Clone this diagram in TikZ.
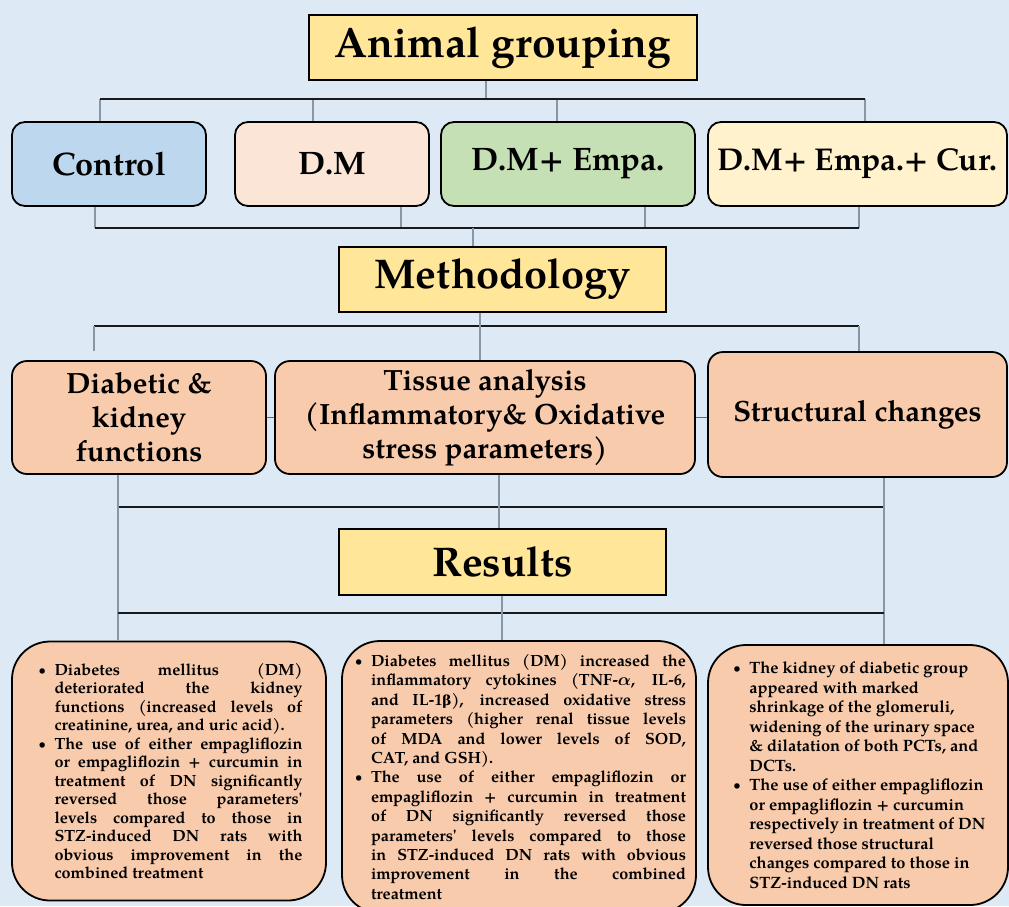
\documentclass[tikz,border=0pt]{standalone}
\usepackage{amsmath}
\usepackage{fontspec}
\setmainfont{texgyrepagella}[Extension=.otf, UprightFont=*-regular, BoldFont=*-bold, ItalicFont=*-italic, BoldItalicFont=*-bolditalic]
\newfontfamily\grkfont{DejaVu Serif}[Scale=0.85]
\usetikzlibrary{positioning}
\definecolor{bgblue}{HTML}{DDE9F5}
\definecolor{headyellow}{HTML}{FFE699}
\definecolor{ctrlblue}{HTML}{BDD7EE}
\definecolor{dmpink}{HTML}{FBE5D6}
\definecolor{empagreen}{HTML}{C5E0B4}
\definecolor{curcream}{HTML}{FFF2CC}
\definecolor{peach}{HTML}{F8CBAD}
\definecolor{dropgray}{HTML}{8A96A6}
% result lines: bullet, indent, justified line of width \colw
\newlength{\colw}
\newcommand{\bitem}{\makebox[19pt][l]{\hspace{3pt}\raisebox{1pt}{\scalebox{0.75}{\textbullet}}}}
\newcommand{\gap}{\hspace*{19pt}}
\newcommand{\just}[1]{\makebox[\colw][s]{#1}}

\begin{document}
\begin{tikzpicture}[
    x=1pt, y=-1pt,
    head/.style={draw=black, line width=2pt, fill=headyellow, minimum height=65pt, inner sep=0pt, font=\fontsize{41.5}{48}\selectfont\bfseries},
    group/.style={draw=black, line width=1.8pt, rounded corners=13pt, minimum height=84pt, inner sep=0pt, font=\fontsize{32.5}{36}\selectfont\bfseries},
    method/.style={draw=black, line width=1.8pt, rounded corners=15pt, fill=peach, inner sep=0pt, align=center, font=\fontsize{29.3}{34}\selectfont\bfseries},
    result/.style={draw=black, line width=1.8pt, rounded corners=38pt, fill=peach, inner sep=0pt, align=left},
    bus/.style={line width=2pt, draw=black!90},
    drop/.style={line width=1.2pt, draw=dropgray},
    side/.style={line width=1.4pt, draw=black!60},
]
\useasboundingbox (0,0) rectangle (1009,906);
\fill[bgblue] (0,0) rectangle (1009,906);

% animal groups
\node[head, minimum width=388pt, font=\fontsize{42.5}{48}\selectfont\bfseries] (ag) at (503,47.5) {Animal grouping};
\node[group, fill=ctrlblue, minimum width=194pt] (ctrl) at (109,164) {Control};
\node[group, fill=dmpink, minimum width=194pt] (dm) at (332,164) {D.M};
\node[group, fill=empagreen, minimum width=254pt] (empa) at (568,164) {D.M+ Empa.};
\node[group, fill=curcream, minimum width=299pt, font=\fontsize{31.5}{36}\selectfont\bfseries] (cur) at (857.5,164) {D.M+ Empa.+ Cur.};

% methodology
\node[head, minimum width=327pt] (meth) at (502.5,279.5) {Methodology};
\node[method, minimum width=254pt, minimum height=113pt] (diab) at (139,417.5) {Diabetic \&\\kidney\\functions};
\node[method, minimum width=420pt, minimum height=113pt] (tissue) at (485,417.5) {Tissue analysis\\(Inflammatory\& Oxidative\\stress parameters)};
\node[method, minimum width=299pt, minimum height=125pt] (struct) at (857.5,414.5) {Structural changes};

% results
\node[head, minimum width=327pt, minimum height=66pt] (res) at (502.5,562) {Results};
\setlength{\colw}{248pt}
\node[result, minimum width=314pt, minimum height=259pt, font=\fontsize{16.2}{18.5}\selectfont\bfseries] (resL) at (169,771) {%
\bitem\just{Diabetes mellitus (DM)}\\
\gap\just{deteriorated the kidney}\\
\gap\just{functions (increased levels of}\\
\gap creatinine, urea, and uric acid).\\
\bitem\just{The use of either empagliflozin}\\
\gap\just{or empagliflozin + curcumin in}\\
\gap\just{treatment of DN significantly}\\
\gap\just{reversed those parameters\textquotesingle}\\
\gap\just{levels compared to those in}\\
\gap\just{STZ-induced DN rats with}\\
\gap\just{obvious improvement in the}\\
\gap combined treatment};
\setlength{\colw}{315pt}
\node[result, minimum width=354pt, minimum height=272pt, font=\fontsize{16.2}{19.4}\selectfont\bfseries] (resM) at (519,777) {%
\bitem\just{Diabetes mellitus (DM) increased the}\\
\gap\just{inflammatory cytokines (TNF-$\boldsymbol{\alpha}$, IL-6,}\\
\gap\just{and IL-1{\grkfont β}), increased oxidative stress}\\
\gap\just{parameters (higher renal tissue levels}\\
\gap\just{of MDA and lower levels of SOD,}\\
\gap CAT, and GSH).\\
\bitem\just{The use of either empagliflozin or}\\
\gap\just{empagliflozin + curcumin in treatment}\\
\gap\just{of DN significantly reversed those}\\
\gap\just{parameters\textquotesingle{} levels compared to those}\\
\gap\just{in STZ-induced DN rats with obvious}\\
\gap\just{improvement in the combined}\\
\gap treatment};
\node[result, minimum width=300pt, minimum height=260pt, font=\fontsize{16.4}{19.5}\selectfont\bfseries] (resR) at (858,775) {%
\bitem The kidney of diabetic group\\
\gap appeared with marked\\
\gap shrinkage of the glomeruli,\\
\gap widening of the urinary space\\
\gap \& dilatation of both PCTs, and\\
\gap DCTs.\\
\bitem The use of either empagliflozin\\
\gap or empagliflozin + curcumin\\
\gap respectively in treatment of DN\\
\gap reversed those structural\\
\gap changes compared to those in\\
\gap STZ-induced DN rats};

% connectors: animal grouping
\coordinate (agbus) at (486,99);
\draw[drop] (agbus |- ag.south) -- (agbus);
\foreach \x/\n in {100/ctrl, 313/dm, 557/empa, 865/cur} {
  \coordinate (d\n) at (\x,99);
  \draw[drop] (d\n) -- (d\n |- \n.north);
}
\draw[bus] (dctrl) -- (dcur);
\foreach \x/\n in {95/ctrl, 401/dm, 645/empa, 859/cur} {
  \coordinate (u\n) at (\x,228);
  \draw[drop] (u\n |- \n.south) -- (u\n);
}
\draw[bus] (uctrl) -- (ucur);
\coordinate (methin) at (473,228);
\draw[drop] (methin) -- (methin |- meth.north);

% connectors: methodology
\coordinate (mleft) at (94,326);
\coordinate (mmid) at (480,326);
\coordinate (mright) at (859,326);
\draw[bus] (mleft) -- (mright);
\draw[drop] (mmid |- meth.south) -- (mmid |- tissue.north);
\draw[drop] (mleft) -- (mleft |- struct.north);
\draw[drop] (mright) -- (mright |- struct.north);
\draw[side] (diab.east) -- (tissue.west);
\draw[side] (tissue.east) -- (tissue.east -| struct.west);

% connectors: results
\coordinate (rleft) at (118,507);
\coordinate (rmid) at (499,507);
\coordinate (rright) at (884,507);
\draw[bus] (rleft) -- (rright);
\draw[drop] (rleft |- diab.south) -- (rleft |- resL.north);
\draw[drop] (rmid |- tissue.south) -- (rmid |- res.north);
\draw[drop] (rright |- struct.south) -- (rright |- resR.north);
\coordinate (bleft) at (118,613);
\coordinate (bmid) at (502,613);
\coordinate (bright) at (884,613);
\draw[bus] (bleft) -- (bright);
\draw[drop] (bmid |- res.south) -- (bmid |- resM.north);

\end{tikzpicture}
\end{document}
